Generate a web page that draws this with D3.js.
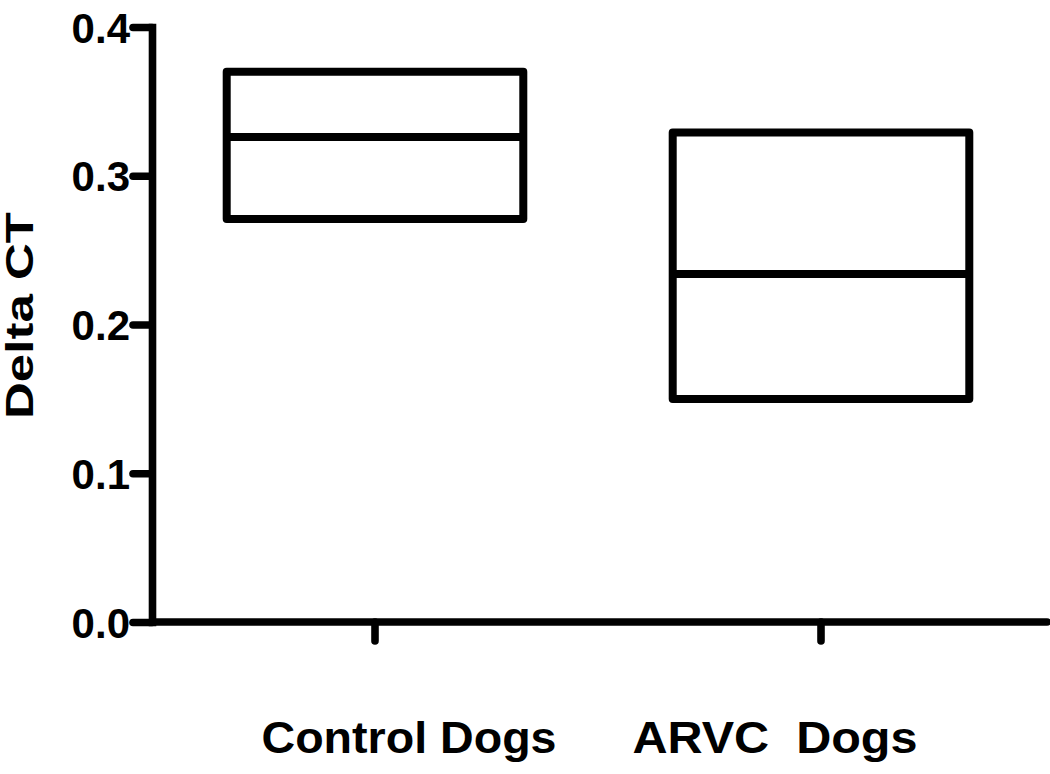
<!DOCTYPE html>
<html>
<head>
<meta charset="utf-8">
<script src="https://cdn.jsdelivr.net/npm/d3@7"></script>
<style>
  html, body { margin: 0; padding: 0; background: #fff; }
  svg { display: block; }
  text { font-family: "Liberation Sans", Arial, sans-serif; font-weight: bold; fill: #000; }
</style>
</head>
<body>
<svg id="chart" width="1050" height="774"></svg>
<script>
// ---- data ----
const categories = ["Control Dogs", "ARVC  Dogs"];
const boxMin    = [0.271, 0.150];
const boxMedian = [0.326, 0.234];
const boxMax    = [0.370, 0.329];
const yTicks    = [0.0, 0.1, 0.2, 0.3, 0.4];
const yLabel    = "Delta CT";

// ---- layout ----
const svg = d3.select("#chart");
const x0 = 152, x1 = 1047, yTop = 27, yBot = 622;
const sw = 7.6;

const y = d3.scaleLinear().domain([0, 0.4]).range([yBot, yTop]);
const x = d3.scalePoint().domain(categories).range([x0, 1044]).padding(0.5);
const boxW = x.step() * 0.665;

// Y axis
const yAxis = d3.axisLeft(y).tickValues(yTicks).tickFormat(d3.format(".1f"))
  .tickSize(19).tickSizeOuter(0).tickPadding(3);
const gy = svg.append("g").attr("transform", `translate(${x0},0)`).call(yAxis);
gy.select(".domain").attr("stroke", "#000").attr("stroke-width", sw).attr("stroke-linecap", "square");
gy.selectAll(".tick line").attr("stroke", "#000").attr("stroke-width", sw).attr("stroke-linecap", "round");
gy.selectAll(".tick text").attr("font-size", 42).attr("dy", "0.36em")
  .style("font-family", "'Liberation Sans', Arial, sans-serif").style("font-weight", "bold");

// X axis
const gx = svg.append("g").attr("transform", `translate(0,${yBot})`);
gx.append("line").attr("x1", x0).attr("x2", x1).attr("y1", 0).attr("y2", 0)
  .attr("stroke", "#000").attr("stroke-width", sw).attr("stroke-linecap", "round");
gx.selectAll("line.tick").data(categories).join("line").attr("class", "tick")
  .attr("x1", d => x(d)).attr("x2", d => x(d)).attr("y1", 0).attr("y2", 19)
  .attr("stroke", "#000").attr("stroke-width", sw).attr("stroke-linecap", "round");

// category labels (offset from tick as in the original figure)
const labelShift = [34, -46];
svg.selectAll("text.cat").data(categories).join("text").attr("class", "cat")
  .attr("x", (d, i) => x(d) + labelShift[i])
  .attr("y", 753)
  .attr("text-anchor", "middle")
  .attr("font-size", 45)
  .attr("textLength", (d, i) => i === 0 ? 295 : 285)
  .attr("lengthAdjust", "spacingAndGlyphs")
  .style("white-space", "pre")
  .text(d => d);

// Y label
svg.append("text")
  .attr("transform", `translate(33,315.5) rotate(-90)`)
  .attr("text-anchor", "middle")
  .attr("font-size", 38)
  .attr("textLength", 207)
  .attr("lengthAdjust", "spacingAndGlyphs")
  .text(yLabel);

// boxes (floating bars min-max with median line)
const boxes = svg.append("g");
categories.forEach((c, i) => {
  boxes.append("rect")
    .attr("x", x(c) - boxW / 2).attr("width", boxW)
    .attr("y", y(boxMax[i])).attr("height", y(boxMin[i]) - y(boxMax[i]))
    .attr("fill", "none").attr("stroke", "#000").attr("stroke-width", 8)
    .attr("stroke-linejoin", "round");
  boxes.append("line")
    .attr("x1", x(c) - boxW / 2).attr("x2", x(c) + boxW / 2)
    .attr("y1", y(boxMedian[i])).attr("y2", y(boxMedian[i]))
    .attr("stroke", "#000").attr("stroke-width", 8);
});
</script>
</body>
</html>
